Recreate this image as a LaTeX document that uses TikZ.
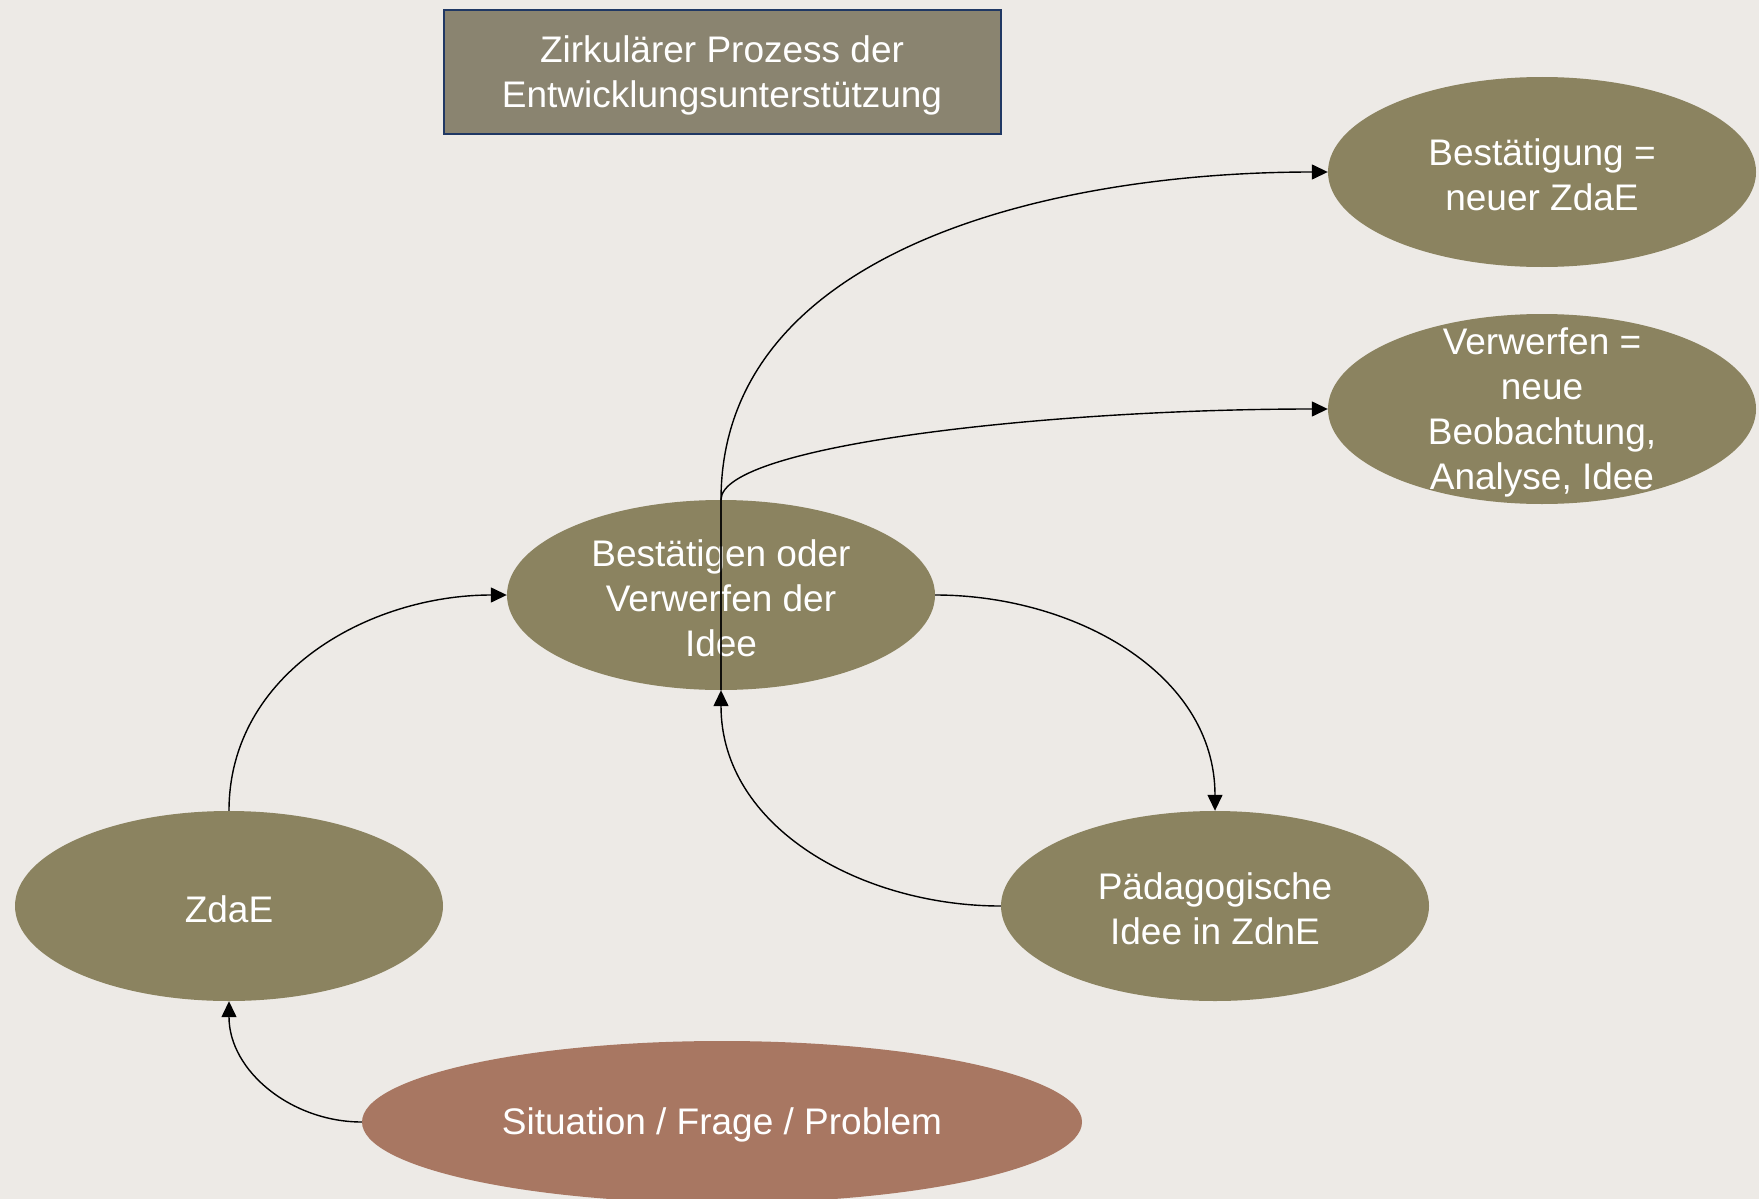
\documentclass[tikz,border=0pt]{standalone}
\usepackage{fontspec}
\setmainfont{Liberation Sans}
\usetikzlibrary{shapes.geometric,arrows.meta}
\definecolor{bgc}{HTML}{EDEAE6}
\definecolor{olive}{HTML}{8B8360}
\definecolor{titlefill}{HTML}{8A8470}
\definecolor{titleborder}{HTML}{203864}
\definecolor{rust}{HTML}{A87762}
\tikzset{
  oval/.style={ellipse, fill=olive, inner sep=0pt,
    minimum width=428pt, minimum height=190pt},
  ovaltext/.style={text=white, align=center, inner sep=0pt, yshift=-3pt,
    font=\fontsize{37}{45}\selectfont},
  conn/.style={draw=black, line width=1.4pt, -{Triangle[length=16pt,width=15pt]}}
}
\begin{document}
\begin{tikzpicture}[x=1pt,y=-1pt]
\fill[bgc] (0,0) rectangle (1759,1199);
\useasboundingbox (0,0) rectangle (1759,1199);
\node[draw=titleborder, line width=2pt, fill=titlefill, inner sep=0pt,
  minimum width=557pt, minimum height=123pt,
  label={[ovaltext]center:{Zirkulärer Prozess der\\Entwicklungsunterstützung}}] (title) at (722,72) {};
\node[oval, label={[ovaltext]center:{Bestätigung =\\neuer ZdaE}}] (best) at (1542,172) {};
\node[oval, label={[ovaltext]center:{Verwerfen =\\neue\\Beobachtung,\\Analyse, Idee}}] (verw) at (1542,409) {};
\node[oval, label={[ovaltext]center:{Bestätigen oder\\Verwerfen der\\Idee}}] (bv) at (721,595) {};
\node[oval, label={[ovaltext]center:{ZdaE}}] (zdae) at (229,906) {};
\node[oval, label={[ovaltext]center:{Pädagogische\\Idee in ZdnE}}] (paed) at (1215,906) {};
\node[oval, fill=rust, minimum width=720pt, minimum height=162pt,
  label={[ovaltext]center:{Situation / Frage / Problem}}] (sit) at (722,1122) {};
\draw[conn] (sit.west) to[out=180,in=-90] (zdae.south);
\draw[conn] (zdae.north) to[out=90,in=180] (bv.west);
\draw[conn] (bv.east) to[out=0,in=90] (paed.north);
\draw[conn] (paed.west) to[out=180,in=-90] (bv.south);
\draw[conn] (bv.south) -- (bv.north) .. controls (721,250) and (1050,172) .. (best.west);
\draw[conn] (bv.south) -- (bv.north) .. controls (721,445) and (1050,409) .. (verw.west);
\end{tikzpicture}
\end{document}
